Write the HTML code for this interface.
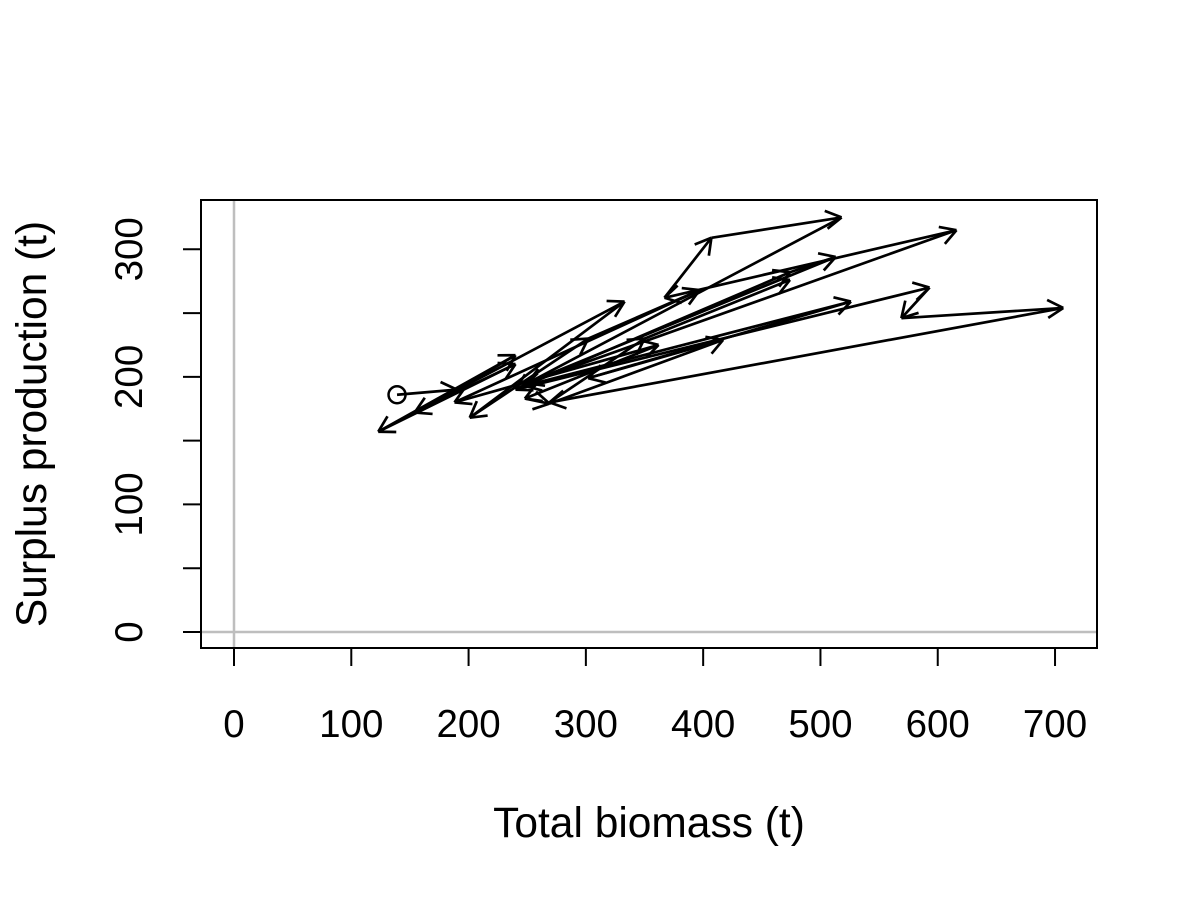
<!DOCTYPE html>
<html><head><meta charset="utf-8"><style>body{margin:0;background:#fff}svg{display:block}</style></head><body>
<svg id="chart" width="1200" height="900" xmlns="http://www.w3.org/2000/svg" font-family="Liberation Sans, sans-serif">
<rect x="0" y="0" width="1200" height="900" fill="#fff"/>
<g id="ax"></g>
<g id="marks"></g>
<text x="649" y="837" font-size="42.5" text-anchor="middle">Total biomass (t)</text>
<text transform="translate(46,424) rotate(-90)" font-size="42.5" text-anchor="middle">Surplus production (t)</text>
</svg>
<script>
const biomass=[139,190,240,123,240,154,333,201,302,397,188,362,248,269,417,302,526,248,474,513,250,616,367,407,518,240,593,569,707,269,350,474];
const production=[186,190,217,157,210,172,259,168,230,268,180,225,183,179,229,199,259,193,282,294,195,315,262,309,325,190,270,246,254,180,230,276];
const xTicks=[0,100,200,300,400,500,600,700];
const yTicks=[0,50,100,150,200,250,300];
const yLabels=[0,100,200,300];
const X=v=>234+v*1.1729;
const Y=v=>632-v*1.2757;
const NS='http://www.w3.org/2000/svg';
const ax=document.getElementById('ax'),mk=document.getElementById('marks');
function L(p,x1,y1,x2,y2,c,w){const l=document.createElementNS(NS,'line');l.setAttribute('x1',x1);l.setAttribute('y1',y1);l.setAttribute('x2',x2);l.setAttribute('y2',y2);l.setAttribute('stroke',c);l.setAttribute('stroke-width',w);p.appendChild(l);return l;}
let g=L(ax,X(0),201,X(0),647,'#bebebe',2.5);


g=L(ax,202,Y(0),1096,Y(0),'#bebebe',2.5);


const box=document.createElementNS(NS,'rect');
box.setAttribute('x',201);box.setAttribute('y',200);box.setAttribute('width',896);box.setAttribute('height',448);box.setAttribute('fill','none');box.setAttribute('stroke','#000');box.setAttribute('stroke-width',2);


ax.appendChild(box);
L(ax,X(0),648,X(700),648,'#000',2);
xTicks.forEach(t=>{const l=L(ax,X(t),648,X(t),666,'#000',2);


const tx=document.createElementNS(NS,'text');tx.setAttribute('x',X(t));tx.setAttribute('y',737);tx.setAttribute('font-size',38.5);tx.setAttribute('text-anchor','middle');tx.textContent=t;


ax.appendChild(tx);});
L(ax,201,Y(0),201,Y(300),'#000',2);
yTicks.forEach(t=>{const l=L(ax,183,Y(t),201,Y(t),'#000',2);

});
yLabels.forEach(t=>{const tx=document.createElementNS(NS,'text');tx.setAttribute('transform','translate(142,'+Y(t)+') rotate(-90)');tx.setAttribute('font-size',38.5);tx.setAttribute('text-anchor','middle');tx.textContent=t;


ax.appendChild(tx);});
const c=document.createElementNS(NS,'circle');c.setAttribute('cx',X(biomass[0]));c.setAttribute('cy',Y(production[0]));c.setAttribute('r',8.5);c.setAttribute('fill','none');c.setAttribute('stroke','#000');c.setAttribute('stroke-width',2.5);


mk.appendChild(c);
for(let i=1;i<biomass.length;i++){
 const x1=X(biomass[i-1]),y1=Y(production[i-1]),x2=X(biomass[i]),y2=Y(production[i]);
 const gg=document.createElementNS(NS,'g');
 
 
 L(gg,x1,y1,x2,y2,'#000',2.7);
 const a=Math.atan2(y2-y1,x2-x1),h=18,s=Math.PI/6;
 L(gg,x2,y2,x2-h*Math.cos(a-s),y2-h*Math.sin(a-s),'#000',2.7);
 L(gg,x2,y2,x2-h*Math.cos(a+s),y2-h*Math.sin(a+s),'#000',2.7);
 mk.appendChild(gg);
}
</script>
</body></html>
